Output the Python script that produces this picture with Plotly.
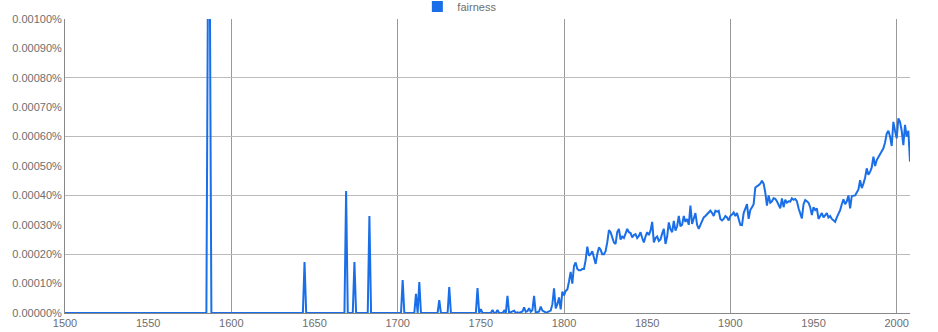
import plotly.graph_objects as go

series_name = "fairness"

years = [1500, 1585, 1586, 1587, 1588,
         1643, 1644, 1645, 1668, 1669, 1670, 1673, 1674, 1675, 1682, 1683, 1684,
         1702, 1703, 1704, 1710, 1711, 1712, 1713, 1714, 1724, 1725, 1726,
         1730, 1731, 1732, 1747, 1748, 1749,
         1750, 1751, 1756, 1757, 1758, 1759, 1760, 1761, 1763, 1764, 1765, 1766, 1767,
         1770, 1771, 1772, 1773, 1775, 1776, 1777, 1778, 1779, 1780, 1781, 1782, 1783,
         1785, 1786, 1787, 1788, 1789, 1790, 1791, 1792, 1793, 1794, 1795, 1796, 1797, 1798, 1799,
         1800, 1801, 1802, 1803, 1804, 1805, 1806, 1807, 1808, 1809,
         1810, 1811, 1812, 1813, 1814, 1815, 1816, 1817, 1818, 1819,
         1820, 1821, 1822, 1823, 1824, 1825, 1826, 1827, 1828, 1829,
         1830, 1831, 1832, 1833, 1834, 1835, 1836, 1837, 1838, 1839,
         1840, 1841, 1842, 1843, 1844, 1845, 1846, 1847, 1848, 1849,
         1850, 1851, 1852, 1853, 1854, 1855, 1856, 1857, 1858, 1859,
         1860, 1861, 1862, 1863, 1864, 1865, 1866, 1867, 1868, 1869,
         1870, 1871, 1872, 1873, 1874, 1875, 1876, 1877, 1878, 1879,
         1880, 1881, 1882, 1883, 1884, 1885, 1886, 1887, 1888, 1889,
         1890, 1891, 1892, 1893, 1894, 1895, 1896, 1897, 1898, 1899,
         1900, 1901, 1902, 1903, 1904, 1905, 1906, 1907, 1908, 1909,
         1910, 1911, 1912, 1913, 1914, 1915, 1916, 1917, 1918, 1919,
         1920, 1921, 1922, 1923, 1924, 1925, 1926, 1927, 1928, 1929,
         1930, 1931, 1932, 1933, 1934, 1935, 1936, 1937, 1938, 1939,
         1940, 1941, 1942, 1943, 1944, 1945, 1946, 1947, 1948, 1949,
         1950, 1951, 1952, 1953, 1954, 1955, 1956, 1957, 1958, 1959,
         1960, 1961, 1962, 1963, 1964, 1965, 1966, 1967, 1968, 1969,
         1970, 1971, 1972, 1973, 1974, 1975, 1976, 1977, 1978, 1979,
         1980, 1981, 1982, 1983, 1984, 1985, 1986, 1987, 1988, 1989,
         1990, 1991, 1992, 1993, 1994, 1995, 1996, 1997, 1998, 1999,
         2000, 2001, 2002, 2003, 2004, 2005, 2006, 2007, 2008]

# values in units of 0.0001 %
values_e4 = [0, 0, 12.0, 12.0, 0,
             0, 1.73, 0, 0, 4.15, 0, 0, 1.73, 0, 0, 3.3, 0,
             0, 1.12, 0, 0, 0.65, 0, 1.05, 0, 0, 0.44, 0,
             0, 0.88, 0, 0, 0.85, 0,
             0.13, 0, 0, 0.1, 0, 0, 0.1, 0, 0, 0.08, 0, 0.58, 0,
             0.08, 0, 0.02, 0, 0.05, 0.19, 0.04, 0.06, 0.16, 0.04, 0.1, 0.58, 0,
             0.05, 0.22, 0.08, 0.05, 0.02, 0.03, 0.06, 0.08, 0.3, 0.84, 0.16, 0.3, 0.53, 0.12, 0.73,
             0.6, 0.75, 0.8, 1.07, 1.4, 1.0, 1.6, 1.72, 1.5, 1.45,
             1.45, 1.5, 1.5, 1.8, 2.26, 1.95, 2.0, 2.1, 1.85, 1.67,
             2.0, 2.23, 2.15, 2.0, 2.0, 2.1, 2.4, 2.82, 2.75, 2.6,
             2.4, 2.35, 2.75, 2.86, 2.5, 2.6, 2.55, 2.7, 2.86, 2.75,
             2.72, 2.57, 2.65, 2.68, 2.55, 2.62, 2.75, 2.55, 2.4, 2.6,
             2.75, 2.65, 2.8, 3.1, 2.4, 2.55, 2.6, 2.45, 2.5, 2.7,
             2.86, 2.35, 2.6, 3.08, 2.85, 2.75, 3.13, 2.8, 2.95, 3.3,
             2.95, 3.0, 3.3, 3.1, 3.2, 3.0, 3.65, 3.03, 3.2, 3.4,
             3.0, 2.86, 3.0, 3.15, 3.25, 3.3, 3.35, 3.4, 3.48, 3.4,
             3.3, 3.48, 3.45, 3.48, 3.2, 3.15, 3.2, 3.3, 3.25, 3.15,
             3.3, 3.35, 3.42, 3.3, 3.4, 3.2, 3.0, 2.99, 3.4, 3.55,
             3.7, 3.2, 3.5, 3.6, 3.7, 4.27, 4.3, 4.35, 4.4, 4.5,
             4.4, 4.1, 3.65, 4.0, 3.75, 3.8, 3.9, 3.88, 3.8, 3.7,
             3.56, 3.9, 3.6, 3.85, 3.75, 3.8, 3.79, 3.9, 3.85, 3.88,
             3.8, 3.56, 3.4, 3.22, 3.7, 3.84, 3.8, 3.75, 3.6, 3.33,
             3.6, 3.5, 3.56, 3.2, 3.3, 3.4, 3.25, 3.35, 3.4, 3.25,
             3.3, 3.2, 3.16, 3.1, 3.25, 3.35, 3.5, 3.7, 3.87, 3.7,
             3.8, 4.0, 3.56, 3.98, 4.0, 4.0, 4.1, 4.2, 4.52, 4.25,
             4.4, 4.6, 4.92, 4.7, 4.8, 4.95, 5.32, 5.0, 5.2, 5.3,
             5.35, 5.45, 5.6, 5.8, 6.1, 6.2, 6.0, 5.68, 6.5, 6.2,
             5.94, 6.62, 6.5, 6.2, 5.71, 6.4, 6.0, 6.2, 5.15]

values = [v * 1e-4 for v in values_e4]

x_label_ticks = list(range(1500, 2001, 50))
x_grid_ticks = list(range(1600, 2001, 100))
y_label_ticks = [i * 1e-4 for i in range(0, 11)]
y_grid_ticks = [i * 2e-4 for i in range(1, 6)]

LINE_COLOR = "#1a6fe8"
TEXT_COLOR = "#6e6e6e"
FONT = "Liberation Sans, Arial, sans-serif"

fig = go.Figure()
fig.add_trace(go.Scatter(
    x=years, y=values, mode="lines", name=series_name,
    line=dict(color=LINE_COLOR, width=2), showlegend=False,
))
# legend entry (square swatch) on the grid axes
fig.add_trace(go.Scatter(
    x=[None], y=[None], mode="markers", name=series_name,
    marker=dict(symbol="square", size=11, color=LINE_COLOR),
    xaxis="x2", yaxis="y2", showlegend=True, hoverinfo="skip",
))

fig.update_layout(
    width=938, height=332,
    margin=dict(l=65, r=28, t=19, b=19, autoexpand=False),
    paper_bgcolor="white", plot_bgcolor="white",
    font=dict(family=FONT, size=11, color=TEXT_COLOR),
    showlegend=True,
    legend=dict(orientation="h", x=0.417, xanchor="left",
                y=1.092, yanchor="top",
                font=dict(size=11, color=TEXT_COLOR), bgcolor="rgba(0,0,0,0)",
                itemwidth=30, borderwidth=0),
    xaxis=dict(range=[1500, 2008], tickvals=x_label_ticks, ticktext=[str(t) for t in x_label_ticks],
               showgrid=False, zeroline=False, showline=True, linecolor="#888888", linewidth=1,
               ticks="", ticklen=0, automargin=False, tickfont=dict(size=11, color=TEXT_COLOR)),
    yaxis=dict(range=[0, 0.001], tickvals=y_label_ticks,
               ticktext=[f"{v:.5f}%" for v in y_label_ticks],
               showgrid=False, zeroline=False, showline=True, linecolor="#888888", linewidth=1,
               ticks="", ticklen=0, automargin=False, tickfont=dict(size=11, color=TEXT_COLOR)),
    xaxis2=dict(range=[1500, 2008], overlaying="x", anchor="y2", tickvals=x_grid_ticks,
                showticklabels=False, showgrid=True, gridcolor="#999999", gridwidth=1,
                zeroline=False, showline=False, ticks="", automargin=False),
    yaxis2=dict(range=[0, 0.001], overlaying="y", anchor="x2", tickvals=y_grid_ticks,
                showticklabels=False, showgrid=True, gridcolor="#bbbbbb", gridwidth=1,
                zeroline=False, showline=False, ticks="", automargin=False),
)

fig.write_html("out.html")
